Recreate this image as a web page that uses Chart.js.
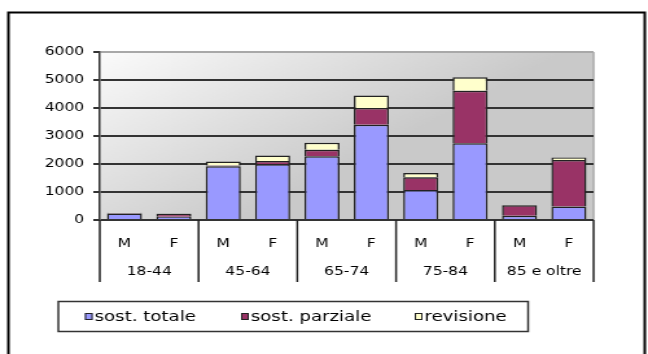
<!DOCTYPE html>
<html>
<head>
<meta charset="utf-8">
<script src="https://cdn.jsdelivr.net/npm/chart.js@4.4.1/dist/chart.umd.min.js"></script>
<style>
  html, body { margin: 0; padding: 0; background: #fff; overflow: hidden; }
  /* the chart is laid out 500px wide and widened to the 648px page */
  #wrap { position: absolute; left: 0; top: 0; width: 500px; height: 354px;
          transform: scaleX(1.296); transform-origin: 0 0; }
</style>
</head>
<body>
<div id="wrap"><canvas id="c"></canvas></div>
<script>
// Age groups and sex within each group
const ageGroups = ['18-44', '45-64', '65-74', '75-84', '85 e oltre'];
const sexes = ['M', 'F'];

// Interventions by type (M, F for each age group in order)
const sostTotale   = [230, 120, 1920, 1990, 2280, 3400, 1070, 2740, 150, 480];
const sostParziale = [20, 100, 30, 120, 230, 600, 460, 1880, 380, 1660];
const revisione    = [10, 10, 140, 190, 250, 450, 150, 480, 10, 90];

const seriesNames = ['sost. totale', 'sost. parziale', 'revisione'];
const yTicks = [0, 1000, 2000, 3000, 4000, 5000, 6000];

Chart.defaults.font.family = '"DejaVu Sans", Verdana, sans-serif';
Chart.defaults.font.size = 12;
Chart.defaults.color = '#000';

const decor = {
  id: 'decor',
  beforeDraw(chart) {
    const { ctx, chartArea: a } = chart;
    ctx.save();
    const g = ctx.createLinearGradient(a.left, a.top, a.left + (a.right - a.left) * 0.3, a.bottom);
    g.addColorStop(0, '#fbfbfb');
    g.addColorStop(1, '#c9c9c9');
    ctx.fillStyle = g;
    ctx.fillRect(a.left, a.top, a.right - a.left, a.bottom - a.top);
    ctx.strokeStyle = '#a8a8a8';
    ctx.lineWidth = 1.5;
    ctx.beginPath();
    ctx.moveTo(a.right, a.top);
    ctx.lineTo(a.right, a.bottom);
    ctx.stroke();
    ctx.restore();
  },
  afterDraw(chart) {
    const { ctx, chartArea: a, scales } = chart;
    const x = scales.x, x2 = scales.x2;
    ctx.save();

    // group separators running through both label rows
    const n = chart.data.labels.length;
    const xs = [a.left];
    for (let i = sexes.length; i < n; i += sexes.length) {
      xs.push((x.getPixelForValue(i - 1) + x.getPixelForValue(i)) / 2);
    }
    xs.push(a.right);
    const lineBottom = x2.top + 28;
    ctx.strokeStyle = '#222';
    ctx.lineWidth = 1.5;
    ctx.beginPath();
    xs.forEach(px => { ctx.moveTo(px, a.bottom); ctx.lineTo(px, lineBottom); });
    ctx.stroke();

    // legend box
    const box = { l: 45, t: 301.5, r: 407.5, b: 331.5 };
    ctx.lineWidth = 1.5;
    ctx.strokeStyle = '#333';
    ctx.strokeRect(box.l, box.t, box.r - box.l, box.b - box.t);
    const itemX = [65.5, 186, 320];
    const cy = (box.t + box.b) / 2;
    ctx.font = '14px "DejaVu Sans", Verdana, sans-serif';
    ctx.textBaseline = 'middle';
    ctx.textAlign = 'left';
    chart.data.datasets.forEach((ds, i) => {
      const sx = itemX[i];
      ctx.fillStyle = ds.backgroundColor;
      ctx.fillRect(sx, cy - 3.5, 6, 7);
      ctx.lineWidth = 1;
      ctx.strokeStyle = '#222';
      ctx.strokeRect(sx + 0.5, cy - 3, 5, 6);
      ctx.fillStyle = '#000';
      ctx.fillText(ds.label, sx + 7.5, cy + 0.5);
    });

    // outer frame
    ctx.lineWidth = 2;
    ctx.strokeStyle = '#000';
    ctx.strokeRect(6.5, 12.5, chart.width - 9, chart.height + 20);
    ctx.restore();
  }
};

new Chart(document.getElementById('c'), {
  type: 'bar',
  data: {
    labels: ageGroups.flatMap(() => sexes),
    datasets: [
      { label: seriesNames[0], data: sostTotale, backgroundColor: '#9999ff' },
      { label: seriesNames[1], data: sostParziale, backgroundColor: '#993366' },
      { label: seriesNames[2], data: revisione, backgroundColor: '#ffffcc' }
    ]
  },
  options: {
    responsive: true,
    maintainAspectRatio: false,
    animation: false,
    layout: { padding: { left: 0, right: 42, top: 52, bottom: 0 } },
    datasets: {
      bar: { borderColor: '#222', borderWidth: 1.5, barPercentage: 0.71, categoryPercentage: 1 }
    },
    plugins: { legend: { display: false }, tooltip: { enabled: false } },
    scales: {
      x: {
        stacked: true,
        grid: { display: false },
        border: { display: false },
        ticks: { padding: 9, maxRotation: 0, autoSkip: false },
        afterFit(s) { s.height = 34; }
      },
      x2: {
        type: 'category',
        labels: ageGroups,
        position: 'bottom',
        offset: true,
        grid: { display: false },
        border: { display: false },
        ticks: { padding: 3, maxRotation: 0, autoSkip: false },
        afterFit(s) { s.height = 100; }
      },
      y: {
        stacked: true,
        min: yTicks[0],
        max: yTicks[yTicks.length - 1],
        afterBuildTicks(s) { s.ticks = yTicks.map(v => ({ value: v })); },
        ticks: { padding: 7, callback: v => String(v) },
        grid: {
          color: c => (c.tick && c.tick.value === yTicks[yTicks.length - 1]) ? '#a8a8a8' : '#333',
          lineWidth: 2,
          tickLength: 5,
          tickColor: '#333'
        },
        border: { color: '#333', width: 1.5 },
        afterFit(s) { s.width = 77; }
      }
    }
  },
  plugins: [decor]
});
</script>
</body>
</html>
